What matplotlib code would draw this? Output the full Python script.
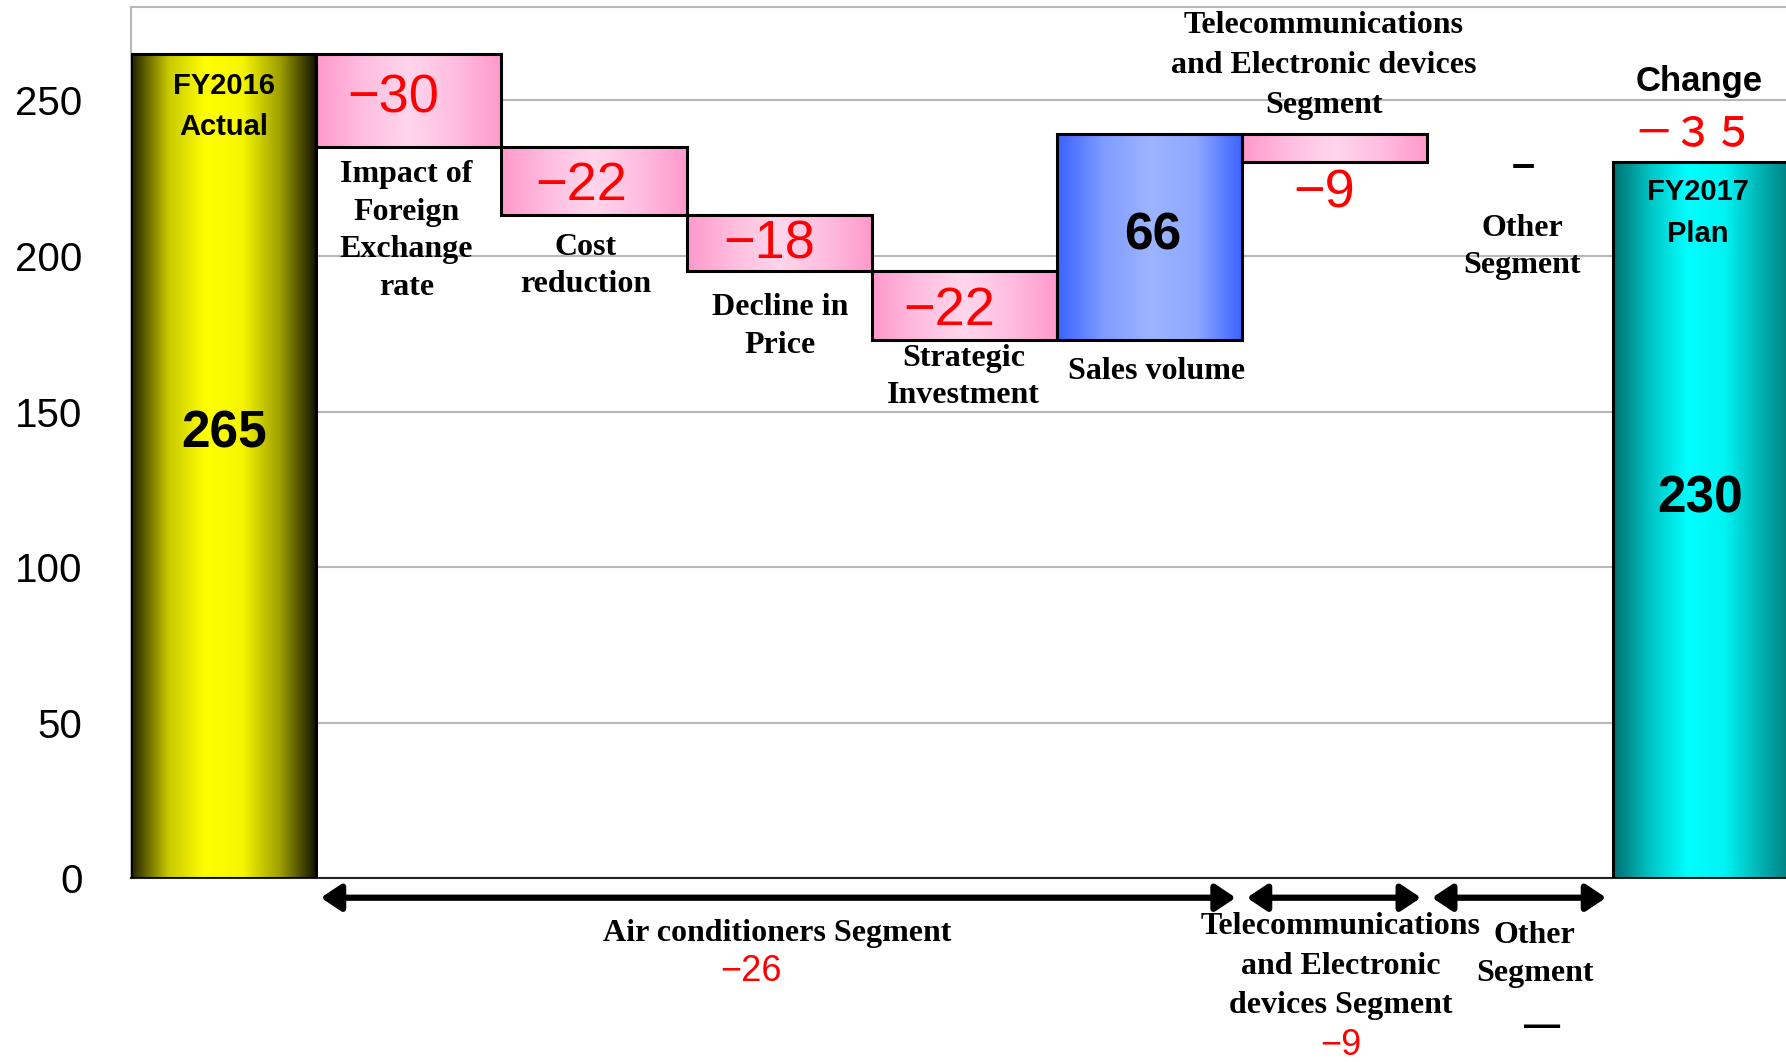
import numpy as np
import matplotlib
matplotlib.use("Agg")
import matplotlib.pyplot as plt
from matplotlib.colors import LinearSegmentedColormap

# ---- data -------------------------------------------------------------
categories = ["FY2016\nActual", "Impact of\nForeign\nExchange\nrate", "Cost\nreduction",
              "Decline in\nPrice", "Strategic\nInvestment", "Sales volume",
              "Telecommunications\nand Electronic devices\nSegment", "Other\nSegment",
              "FY2017\nPlan"]
start_value = 265
changes = [-30, -22, -18, -22, 66, -9, 0]
end_value = 230
total_change_label = "－３５"

segments = ["Air conditioners Segment",
            "Telecommunications\nand Electronic\ndevices Segment",
            "Other\nSegment"]
segment_changes = [-26, -9, 0]
segment_ranges = [(1, 5), (6, 6), (7, 7)]   # first / last category index

yticks = [0, 50, 100, 150, 200, 250]

# ---- fonts ------------------------------------------------------------
SANS = ["Liberation Sans", "DejaVu Sans"]
SERIF = ["Liberation Serif", "DejaVu Serif"]
CJK = ["Noto Sans CJK JP", "DejaVu Sans"]

# ---- figure -----------------------------------------------------------
fig = plt.figure(figsize=(17.86, 10.63), dpi=100)
ax = fig.add_axes([115 / 1568, (933 - 771) / 933, 9 * 162.6 / 1568, (771 - 6) / 933])

n = len(categories)
x = np.arange(n)

# waterfall geometry
bottoms, heights = [0], [start_value]
level = start_value
for c in changes:
    bottoms.append(level)
    heights.append(c)
    level += c
bottoms.append(0)
heights.append(end_value)

YELLOW = ["#202000", "#c8c800", "#ffff00", "#f6f600", "#a0a000", "#101000"]
PINK = ["#ff99cc", "#ffbddf", "#ffd6ec", "#ffbddf", "#ff99cc"]
BLUE = ["#3a62ff", "#7f9cff", "#9db4ff", "#8ea8ff", "#3a62ff"]
CYAN = ["#007070", "#00c4c4", "#00ffff", "#00f4f4", "#00b0b0", "#007070"]


def fill_for(i, h):
    if i == 0:
        return YELLOW
    if i == n - 1:
        return CYAN
    return BLUE if h > 0 else PINK


grad = np.linspace(0, 1, 256).reshape(1, -1)
for i in range(n):
    h = heights[i]
    if h == 0:
        continue
    bar = ax.bar(x[i], h, bottom=bottoms[i], width=1.0, facecolor="none",
                 edgecolor="black", linewidth=2.2, zorder=4)[0]
    y0 = min(bottoms[i], bottoms[i] + h)
    y1 = max(bottoms[i], bottoms[i] + h)
    cmap = LinearSegmentedColormap.from_list(f"g{i}", fill_for(i, h))
    im = ax.imshow(grad, cmap=cmap, aspect="auto", interpolation="bilinear",
                   extent=(x[i] - 0.5, x[i] + 0.5, y0, y1), zorder=3)
    im.set_clip_path(bar)

ax.set_xlim(-0.5, n - 0.5)
ax.set_ylim(0, 280)

# axes styling
ax.set_xticks([])
ax.set_yticks(yticks)
ax.set_yticklabels([str(t) for t in yticks], family=SANS, fontsize=29)
ax.tick_params(axis="y", length=0, pad=35)
ax.yaxis.grid(True, color="#b8b8b8", linewidth=1.5)
ax.set_axisbelow(True)
for side in ("top", "left"):
    ax.spines[side].set_color("#b8b8b8")
    ax.spines[side].set_linewidth(1.5)
ax.spines["right"].set_visible(False)
ax.spines["bottom"].set_color("#222222")
ax.spines["bottom"].set_linewidth(1.5)

# ---- texts ----------------------------------------------------------
label_pos = [(0.0, 248), (0.988, 208), (1.954, 196.7), (3.005, 177.3), (3.996, 161),
             (5.04, 163), (5.94, 261), (7.01, 202.8), (7.96, 213.8)]
label_spacing = [1.62, 1.4, 1.37, 1.37, 1.37, 1.3, 1.5, 1.37, 1.62]
for i, (lx, ly) in enumerate(label_pos):
    if i in (0, n - 1):
        ax.text(lx, ly, categories[i], family=SANS, fontsize=21, fontweight="bold",
                ha="center", va="center", linespacing=label_spacing[i], zorder=6)
    else:
        ax.text(lx, ly, categories[i], family=SERIF, fontsize=23, fontweight="bold",
                ha="center", va="center", linespacing=label_spacing[i], zorder=6)

# totals
ax.text(0.0, 142.7, f"{start_value}", family=SANS, fontsize=37, fontweight="bold",
        ha="center", va="center", zorder=6)
ax.text(7.975, 122, f"{end_value}", family=SANS, fontsize=37, fontweight="bold",
        ha="center", va="center", zorder=6)

# step values
value_pos = [(0.915, 250.7), (1.93, 222.5), (2.944, 203.5), (3.916, 182.3),
             (5.016, 206.4), (5.94, 220), (7.02, 229)]
for c, (vx, vy) in zip(changes, value_pos):
    if c > 0:
        ax.text(vx, vy, f"{c}", family=SANS, fontsize=37, fontweight="bold",
                color="black", ha="center", va="center", zorder=6)
    elif c < 0:
        ax.text(vx, vy, f"\u2212{abs(c)}", family=SANS, fontsize=39,
                color="#ff0000", ha="center", va="center", zorder=6)
    else:
        ax.text(vx, vy, "\u2013", family=SANS, fontsize=30, fontweight="bold",
                color="black", ha="center", va="center", zorder=6)

ax.text(7.97, 256, "Change", family=SANS, fontsize=25, fontweight="bold",
        ha="center", va="center", zorder=6, clip_on=False)
ax.text(7.94, 239.4, total_change_label, family=CJK, fontsize=29, fontweight="medium",
        color="#ff0000", ha="center", va="center", zorder=6, clip_on=False)

# ---- segment brackets under the axis -------------------------------
arrow_y = -6.2
for (a, b) in segment_ranges:
    ax.annotate("", xy=(b + 0.5 - 0.035, arrow_y), xytext=(a - 0.5 + 0.025, arrow_y),
                xycoords="data", annotation_clip=False,
                arrowprops=dict(arrowstyle="<|-|>,head_length=0.75,head_width=0.5",
                                lw=4.5, color="black", mutation_scale=16,
                                shrinkA=0, shrinkB=0))

seg_label_pos = [(2.987, -17.6), (6.03, -28.2), (7.08, -24.5)]
seg_value_pos = [(2.85, -30.0), (6.03, -53.8), (7.12, -47.6)]
seg_spacing = [1.3, 1.49, 1.4]
for name, val, (sx, sy), (vx, vy), ls in zip(segments, segment_changes, seg_label_pos,
                                             seg_value_pos, seg_spacing):
    ax.text(sx, sy, name, family=SERIF, fontsize=23, fontweight="bold", ha="center",
            va="center", linespacing=ls, clip_on=False)
    if val == 0:
        ax.text(vx, vy, "\u2014", family=SANS, fontsize=26, fontweight="bold",
                ha="center", va="center", clip_on=False)
    else:
        ax.text(vx, vy, f"\u2212{abs(val)}", family=SANS, fontsize=26, color="#ff0000",
                ha="center", va="center", clip_on=False)

fig.savefig("out.png", dpi=100, facecolor="white")
